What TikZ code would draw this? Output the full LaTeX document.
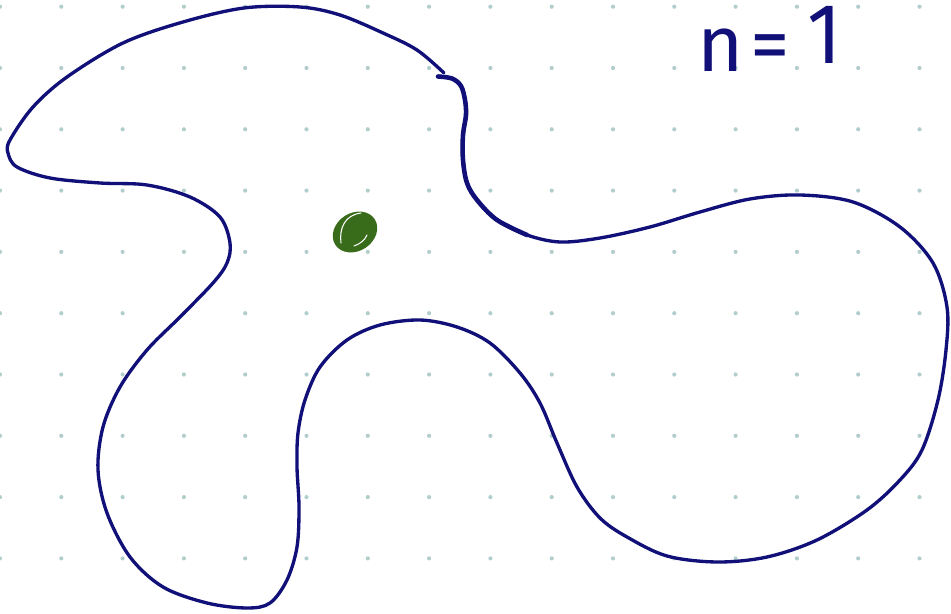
\documentclass[tikz,border=0pt]{standalone}
\usepackage{fontspec}
\newfontfamily\handfont{Fira Sans}
\definecolor{inkblue}{RGB}{16,16,120}
\definecolor{dotgrey}{RGB}{178,206,204}
\definecolor{blobgreen}{RGB}{56,108,26}
\tikzset{
  griddot/.style={fill=dotgrey},
  outline/.style={draw=inkblue,line width=1.9pt,line cap=round,line join=round},
  outlinethick/.style={draw=inkblue,line width=2.6pt,line cap=round,line join=round},
  label/.style={text=inkblue,inner sep=0pt,font=\handfont\fontsize{45}{45}\selectfont}
}
\begin{document}
\begin{tikzpicture}[x=0.02cm,y=-0.02cm]
\useasboundingbox (0,0) rectangle (951,614);
% dot grid
\foreach \i in {0,...,15}{
  \foreach \j in {0,...,9}{
    \fill[griddot] ({61.3*\i},{6.7+61.3*\j}) circle (0.042cm);
  }
}
% outline
\draw[outline] plot[smooth,tension=0.55] coordinates {
(438,76.5) (452,78.5) (461,86) (465,100) (466,115) (463,135) (463,160) (467,183) (477,200) (497,220) (527,235) (560,242) (600,238) (650,227) (700,212) (750,199) (800,195) (853,202) (900,227) (933,263) (947,307) (946,350) (938,400) (922,450) (900,480) (867,510) (817,540) (767,557) (717,562) (667,556) (627,537) (600,518) (577,487) (557,443) (540,403) (520,373) (490,343) (457,327) (420,320) (380,325) (347,340) (320,367) (305,400) (298,433) (297,467) (299,507) (297,547) (287,580) (270,603) (247,608) (207,603) (163,587) (130,557) (107,513) (98,470) (103,427) (120,387) (147,350) (180,317) (213,283) (227,263) (230,243) (220,217) (190,197) (147,185) (100,183) (50,178) (17,167) (8,153) (10,140) (33,107) (67,77) (123,43) (183,22) (244,8) (300,7) (340,15) (383,33) (417,50) (444,73)
};
\draw[outlinethick] plot[smooth,tension=0.55] coordinates {
(438,76.5) (452,78.5) (461,86) (465,100) (466,115) (463,135) (463,160) (467,183) (477,200) (497,220) (527,235)
};
% green blob
\fill[blobgreen,rotate around={33:(355,232)}] (355,232) ellipse [x radius=0.47cm, y radius=0.38cm];
\draw[white,line width=0.6pt,line cap=round] (361,213) .. controls (345,215) and (339,228) .. (341,243);
\draw[white,line width=0.6pt,line cap=round] (354,246) .. controls (360,244) and (365,240) .. (367,235);
% label
\node[label,anchor=base west] (lbl) at (697,72) {n\kern4pt=\kern10pt\raisebox{5pt}{\scalebox{1}[1.08]{1}}};
\end{tikzpicture}
\end{document}
